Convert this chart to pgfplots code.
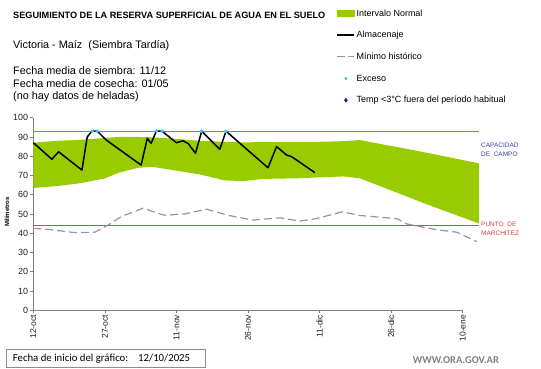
\documentclass[border=0pt]{standalone}
\usepackage{pgfplots}
\pgfplotsset{compat=1.18}
\usepackage{fontspec}
\setmainfont{Liberation Sans}
\newfontfamily\calibri{Carlito}
\definecolor{normgreen}{RGB}{153,204,0}
\definecolor{capblue}{RGB}{110,130,200}
\definecolor{captext}{RGB}{60,60,170}
\definecolor{wiltred}{RGB}{192,80,77}
\definecolor{wilttext}{RGB}{215,60,60}
\definecolor{mingray}{RGB}{150,150,150}
\definecolor{exccyan}{RGB}{50,200,240}
\definecolor{tempblue}{RGB}{20,20,150}
\definecolor{axgray}{RGB}{128,128,128}
\definecolor{boxcol}{RGB}{160,135,135}
\definecolor{txtgray}{RGB}{30,30,30}
\begin{document}
\begin{tikzpicture}[x=1bp,y=1bp]
\useasboundingbox (-33.3,-57.8) rectangle (507.7,310.2);
\begin{axis}[
  at={(0,0)}, anchor=south west,
  scale only axis, width=446bp, height=192.5bp,
  xmin=0, xmax=93.5, ymin=0, ymax=100,
  clip=false,
  axis lines*=left,
  x axis line style={draw=none},
  y axis line style={axgray, line width=0.8pt},
  tick align=outside, major tick length=3bp,
  tick style={axgray, line width=0.6pt},
  xtick={0,15,30,45,60,75,90},
  xticklabels={12-oct,27-oct,11-nov,26-nov,11-dic,26-dic,10-ene},
  xticklabel style={rotate=90, anchor=east, inner sep=1.5bp, font=\fontsize{8.5}{10}\selectfont, text=txtgray},
  ytick={0,10,...,100},
  yticklabel style={font=\fontsize{9}{10}\selectfont, text=txtgray, inner sep=2bp},
  /pgf/number format/assume math mode=true,
  ylabel={Milímetros},
  ylabel style={font=\bfseries\fontsize{6}{7}\selectfont, at={(axis description cs:-0.059,0.51)}, anchor=center},
  legend style={draw=none, fill=none, inner sep=0pt, at={(0.6798,1.5716)}, anchor=north west,
    font=\fontsize{9}{10}\selectfont, row sep=10.5bp,
    nodes={inner sep=1.5bp, text height=6.7bp, text depth=1.5bp}},
  legend cell align=left,
]
% normal interval band
\addplot[fill=normgreen, draw=none, forget plot] coordinates {
 (0,87) (5,88) (10,88.5) (15,89.5) (18,90) (22,90) (25,89.8) (30,89) (35,88) (40,87.5)
 (44,87.2) (48,87.3) (55,87.5) (60,87.5) (65,87.8) (68.5,88.4) (74,85.8) (79.6,83.2)
 (86.7,79.7) (93.4,76.3)
 (93.4,45.1) (82.5,55) (74,63.2) (68.5,68.5) (65,69.5) (60,69) (55,68.5) (48,68.2)
 (44,67) (40,67.5) (35,70.5) (30,72.5) (25,74.5) (22,74) (18,71.5) (15,68.5)
 (10,66) (5,64.5) (0,63.5)} -- cycle;
% capacity and wilting point
\addplot[capblue, line width=0.7pt, forget plot] coordinates {(0,93) (93.4,93)};
\addplot[wiltred, line width=0.7pt, forget plot] coordinates {(0,44.1) (93.4,44.1)};
% minimo historico
\addplot[mingray, line width=1.2pt, dash pattern=on 8bp off 4bp, forget plot] coordinates {
 (0,42.5) (3,42) (8.7,40.3) (12.9,40.5) (15.7,44.3) (18.5,48.7) (23,53) (27.5,49.3)
 (31.7,50) (36.3,52.5) (40.8,49.3) (46,46.8) (51.7,48) (55.9,46.3) (59.4,47.6)
 (64.7,51.1) (68.5,49.2) (76.2,47.6) (78.3,44.8) (84.6,41.8) (88.8,40.5) (93,35.6)};
% almacenaje
\addplot[black, line width=1.5pt, line join=round, forget plot] coordinates {
 (0,87) (3.9,78.4) (5.3,82.3) (10.2,72.8) (11.3,90) (12.3,93) (13.4,93) (15.3,88.4)
 (22.6,75.4) (23.9,89.3) (24.7,86.7) (25.8,93) (27,93) (30,87) (31.4,88) (32.5,86.5)
 (34,81.5) (35.3,93) (39.1,83.6) (40.4,93) (49.2,74) (51,85) (53.1,80.6) (54.2,79.7)
 (59,71.5)};
% exceso
\addplot[only marks, mark=*, mark size=1.6pt, exccyan, forget plot] coordinates {
 (12.3,93) (13.4,93) (25.8,93) (27,93) (35.3,93) (40.4,93)};
% x axis line up to 10-ene
\addplot[axgray, line width=0.8pt, forget plot] coordinates {(0,0) (90,0)};
% legend
\addlegendimage{area legend, fill=normgreen, draw=normgreen}
\addlegendentry{Intervalo Normal}
\addlegendimage{black, line width=1.5pt}
\addlegendentry{Almacenaje}
\addlegendimage{mingray, line width=1.2pt, dash pattern=on 8bp off 3bp}
\addlegendentry{Mínimo histórico}
\addlegendimage{only marks, mark=*, mark size=1.3pt, exccyan}
\addlegendentry{Exceso}
\addlegendimage{only marks, mark=diamond*, mark size=2pt, tempblue}
\addlegendentry{Temp <3°C fuera del período habitual}
\end{axis}
% texts
\node[anchor=base west, inner sep=0pt, font=\bfseries\fontsize{9.2}{10}\selectfont] at (-20.3,291.9) {SEGUIMIENTO DE LA RESERVA SUPERFICIAL DE AGUA EN EL SUELO};
\node[anchor=base west, inner sep=0pt, font=\fontsize{10.9}{12}\selectfont] at (-20.3,261.9) {Victoria - Maíz\ \ (Siembra Tardía)};
\node[anchor=base west, inner sep=0pt, font=\fontsize{10.9}{12}\selectfont] at (-20.3,236.2) {Fecha media de siembra: 11/12};
\node[anchor=base west, inner sep=0pt, font=\fontsize{10.9}{12}\selectfont] at (-20.3,222.9) {Fecha media de cosecha: 01/05};
\node[anchor=base west, inner sep=0pt, font=\fontsize{10.9}{12}\selectfont] at (-20.3,210.9) {(no hay\ datos de heladas)};
\node[anchor=base west, inner sep=0pt, font=\fontsize{6.5}{7}\selectfont, text=captext] at (447.7,162.5) {CAPACIDAD};
\node[anchor=base west, inner sep=0pt, font=\fontsize{6.5}{7}\selectfont, text=captext] at (447.7,153.5) {DE\ \ CAMPO};
\node[anchor=base west, inner sep=0pt, font=\fontsize{6.5}{7}\selectfont, text=wilttext] at (447.7,83.5) {PUNTO\ \ DE};
\node[anchor=base west, inner sep=0pt, font=\fontsize{6.5}{7}\selectfont, text=wilttext] at (447.7,74.5) {MARCHITEZ};
% footer
\draw[boxcol, line width=0.8pt] (-27.3,-57.1) rectangle (172.4,-38.8);
\node[anchor=base west, inner sep=0pt, font=\calibri\fontsize{10.8}{12}\selectfont] at (-20.6,-51.5) {Fecha de inicio del gráfico:};
\node[anchor=base west, inner sep=0pt, font=\calibri\fontsize{10.8}{12}\selectfont] at (104.7,-51.5) {12/10/2025};
\node[anchor=base west, inner sep=0pt, font=\calibri\bfseries\fontsize{10.5}{12}\selectfont, text=axgray] at (379.4,-53.1) {WWW.ORA.GOV.AR};
\end{tikzpicture}
\end{document}
